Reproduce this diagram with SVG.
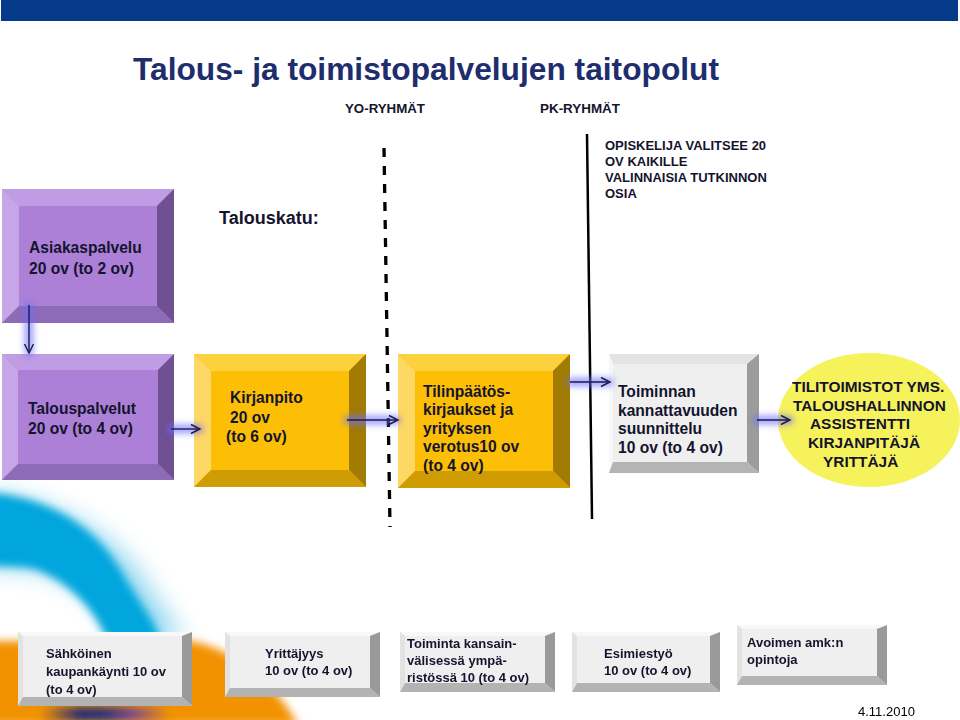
<svg xmlns="http://www.w3.org/2000/svg" width="960" height="720" viewBox="0 0 960 720">
<defs>
<style>
.tx{font-family:"Liberation Sans",Arial,sans-serif;font-weight:bold;fill:#14142e}
.s16{font-size:15.6px}
.s13{font-size:13px}
.s15{font-size:15.4px}
.purple .fc{fill:#ab80d6}.purple .bt{fill:#c09ce4}.purple .bl{fill:#c7a6e8}.purple .br{fill:#6e5093}.purple .bb{fill:#8e6bb6}
.yellow .fc{fill:#fcbf05}.yellow .bt{fill:#fdd03e}.yellow .bl{fill:#fed865}.yellow .br{fill:#a27b04}.yellow .bb{fill:#cf9c03}
.gray .fc{fill:#efefef}.gray .bt{fill:#e4e4e4}.gray .bl{fill:#f7f7f7}.gray .br{fill:#9c9c9c}.gray .bb{fill:#b4b4b4}
.sgray .fc{fill:#efefef}.sgray .bt{fill:#f8f8f8}.sgray .bl{fill:#e2e2e2}.sgray .br{fill:#9a9a9a}.sgray .bb{fill:#b3b3b3}
.glow{stroke:#6b6bff;stroke-width:9;stroke-linecap:round;opacity:0.65;fill:none}
.ln{stroke:#1a1a4d;stroke-width:1.4;fill:none}
</style>
<filter id="blur3" filterUnits="userSpaceOnUse" x="0" y="0" width="960" height="720"><feGaussianBlur stdDeviation="3"/></filter>
<filter id="soft" filterUnits="userSpaceOnUse" x="-50" y="400" width="450" height="340"><feGaussianBlur stdDeviation="4"/></filter>
<filter id="fade" filterUnits="userSpaceOnUse" x="-50" y="400" width="450" height="340"><feGaussianBlur stdDeviation="12"/></filter>
<linearGradient id="strip" x1="0" y1="0" x2="1" y2="0">
<stop offset="0" stop-color="#f39200"/>
<stop offset="0.3" stop-color="#1e2a7a"/>
<stop offset="0.5" stop-color="#24307e"/>
<stop offset="0.72" stop-color="#7a4a8e"/>
<stop offset="1" stop-color="#f39200"/>
</linearGradient>
<marker id="ah" markerUnits="userSpaceOnUse" markerWidth="12" markerHeight="12" refX="10" refY="6" orient="auto">
<path d="M1,1.5 L10,6 L1,10.5" fill="none" stroke="#1a1a4d" stroke-width="1.4"/>
</marker>
</defs>

<rect width="960" height="720" fill="#ffffff"/>

<!-- background decorations -->
<g id="decor">
<rect x="1" y="0" width="957" height="21" fill="#053a88"/>
<path d="M-30,495 L0,495 C60,505 120,535 150,590 C160,605 170,620 185,640 L120,640 C105,605 80,580 40,570 C20,567 0,567 -30,567 Z" fill="#00a6dd" opacity="0.45" filter="url(#fade)"/>
<path d="M-30,494 L0,494 C40,499 93,518 125,578 C138,600 150,615 162,640 L107,640 C96,612 72,583 35,569 C20,566 0,566 -30,566 Z" fill="#00a6dd" filter="url(#soft)"/>
<path d="M-30,641 L190,641 C240,650 278,688 298,725 L-30,725 Z" fill="#f39200" filter="url(#soft)"/>
<rect x="40" y="707" width="130" height="14" fill="url(#strip)" filter="url(#soft)"/>
</g>

<g id="title">
<text x="133" y="80" font-family="'Liberation Sans',Arial,sans-serif" font-weight="bold" font-size="32" fill="#1e2d6e" textLength="586" lengthAdjust="spacingAndGlyphs">Talous- ja toimistopalvelujen taitopolut</text>
</g>
<g id="headers">
<text class="tx s13" x="345" y="113" textLength="80" lengthAdjust="spacingAndGlyphs">YO-RYHMÄT</text>
<text class="tx s13" x="540" y="113" textLength="80" lengthAdjust="spacingAndGlyphs">PK-RYHMÄT</text>
<text class="tx" x="219" y="224" font-size="18">Talouskatu:</text>
<g class="tx s13">
<text x="605" y="150">OPISKELIJA VALITSEE 20</text>
<text x="605" y="166">OV KAIKILLE</text>
<text x="605" y="182">VALINNAISIA TUTKINNON</text>
<text x="605" y="198">OSIA</text>
</g>
</g>

<g id="dividers">
<line x1="384" y1="148" x2="390" y2="527" stroke="#000" stroke-width="3.3" stroke-dasharray="9 9"/>
<line x1="587" y1="134" x2="592" y2="519" stroke="#000" stroke-width="2.5"/>
</g>

<g id="asiakaspalvelu" class="purple">
<rect class="fc" x="2" y="189" width="172" height="134"/>
<polygon class="bt" points="2,189 174,189 157,206 19,206"/>
<polygon class="bl" points="2,189 19,206 19,306 2,323"/>
<polygon class="br" points="174,189 174,323 157,306 157,206"/>
<polygon class="bb" points="2,323 19,306 157,306 174,323"/>
<text class="tx s16" x="29" y="253">Asiakaspalvelu</text>
<text class="tx s16" x="29" y="274">20 ov (to 2 ov)</text>
</g>

<g id="talouspalvelut" class="purple">
<rect class="fc" x="2" y="354" width="172" height="126"/>
<polygon class="bt" points="2,354 174,354 158,370 18,370"/>
<polygon class="bl" points="2,354 18,370 18,464 2,480"/>
<polygon class="br" points="174,354 174,480 158,464 158,370"/>
<polygon class="bb" points="2,480 18,464 158,464 174,480"/>
<text class="tx s16" x="28" y="414">Talouspalvelut</text>
<text class="tx s16" x="28" y="434">20 ov (to 4 ov)</text>
</g>

<g id="kirjanpito" class="yellow">
<rect class="fc" x="194" y="354" width="172" height="133"/>
<polygon class="bt" points="194,354 366,354 349,371 211,371"/>
<polygon class="bl" points="194,354 211,371 211,470 194,487"/>
<polygon class="br" points="366,354 366,487 349,470 349,371"/>
<polygon class="bb" points="194,487 211,470 349,470 366,487"/>
<text class="tx s16" x="230" y="403">Kirjanpito</text>
<text class="tx s16" x="230" y="423">20 ov</text>
<text class="tx s16" x="226" y="442">(to 6 ov)</text>
</g>

<g id="tilinpaatos" class="yellow">
<rect class="fc" x="398" y="354" width="172" height="134"/>
<polygon class="bt" points="398,354 570,354 553,371 415,371"/>
<polygon class="bl" points="398,354 415,371 415,471 398,488"/>
<polygon class="br" points="570,354 570,488 553,471 553,371"/>
<polygon class="bb" points="398,488 415,471 553,471 570,488"/>
<text class="tx s16" x="423" y="397">Tilinpäätös-</text>
<text class="tx s16" x="423" y="415">kirjaukset ja</text>
<text class="tx s16" x="423" y="433.5">yrityksen</text>
<text class="tx s16" x="423" y="452">verotus10 ov</text>
<text class="tx s16" x="423" y="471">(to 4 ov)</text>
</g>

<g id="toiminnan" class="gray">
<rect class="fc" x="609" y="354" width="150" height="119"/>
<polygon class="bt" points="609,354 759,354 747,364 613,364"/>
<polygon class="bl" points="609,354 613,364 613,462 609,473"/>
<polygon class="br" points="759,354 759,473 747,462 747,364"/>
<polygon class="bb" points="609,473 613,462 747,462 759,473"/>
<text class="tx s16" x="618" y="397">Toiminnan</text>
<text class="tx s16" x="618" y="415.5">kannattavuuden</text>
<text class="tx s16" x="618" y="434">suunnittelu</text>
<text class="tx s16" x="618" y="453">10 ov (to 4 ov)</text>
</g>

<g id="tilitoimistot">
<ellipse cx="869" cy="420" rx="91" ry="67" fill="#f6f25c"/>
<g class="tx s15">
<text x="792" y="392">TILITOIMISTOT YMS.</text>
<text x="793" y="411">TALOUSHALLINNON</text>
<text x="810" y="429">ASSISTENTTI</text>
<text x="808" y="448">KIRJANPITÄJÄ</text>
<text x="823" y="467">YRITTÄJÄ</text>
</g>
</g>

<g id="connectors">
<g filter="url(#blur3)">
<line class="glow" x1="29" y1="307" x2="29" y2="352"/>
<line class="glow" x1="172" y1="429" x2="199" y2="429"/>
<line class="glow" x1="348" y1="420" x2="396" y2="420"/>
<line class="glow" x1="571" y1="382" x2="609" y2="382"/>
<line class="glow" x1="758" y1="420" x2="789" y2="420"/>
</g>
<line class="ln" x1="29" y1="305" x2="29" y2="353" marker-end="url(#ah)"/>
<line class="ln" x1="171" y1="429" x2="200" y2="429" marker-end="url(#ah)"/>
<line class="ln" x1="347" y1="420" x2="398" y2="420" marker-end="url(#ah)"/>
<line class="ln" x1="570" y1="382" x2="610" y2="382" marker-end="url(#ah)"/>
<line class="ln" x1="757" y1="420" x2="790" y2="420" marker-end="url(#ah)"/>
</g>

<g id="sahkoinen" class="sgray">
<rect class="fc" x="18" y="632" width="174" height="74"/>
<polygon class="bt" points="18,632 192,632 182,636 23,636"/>
<polygon class="bl" points="18,632 23,636 23,697 18,706"/>
<polygon class="br" points="192,632 192,706 182,697 182,636"/>
<polygon class="bb" points="18,706 23,697 182,697 192,706"/>
<text class="tx s13" x="46" y="658">Sähköinen</text>
<text class="tx s13" x="46" y="676">kaupankäynti 10 ov</text>
<text class="tx s13" x="46" y="694">(to 4 ov)</text>
</g>

<g id="yrittajyys" class="sgray">
<rect class="fc" x="225" y="632" width="155" height="65"/>
<polygon class="bt" points="225,632 380,632 370,636 230,636"/>
<polygon class="bl" points="225,632 230,636 230,688 225,697"/>
<polygon class="br" points="380,632 380,697 370,688 370,636"/>
<polygon class="bb" points="225,697 230,688 370,688 380,697"/>
<text class="tx s13" x="265" y="658">Yrittäjyys</text>
<text class="tx s13" x="265" y="675">10 ov (to 4 ov)</text>
</g>

<g id="kansainvalisyys" class="sgray">
<rect class="fc" x="400" y="632" width="155" height="60"/>
<polygon class="bt" points="400,632 555,632 545,636 405,636"/>
<polygon class="bl" points="400,632 405,636 405,683 400,692"/>
<polygon class="br" points="555,632 555,692 545,683 545,636"/>
<polygon class="bb" points="400,692 405,683 545,683 555,692"/>
<text class="tx s13" x="407" y="648">Toiminta kansain-</text>
<text class="tx s13" x="407" y="665">välisessä ympä-</text>
<text class="tx s13" x="407" y="682">ristössä 10 (to 4 ov)</text>
</g>

<g id="esimiestyo" class="sgray">
<rect class="fc" x="572" y="632" width="148" height="60"/>
<polygon class="bt" points="572,632 720,632 710,636 577,636"/>
<polygon class="bl" points="572,632 577,636 577,683 572,692"/>
<polygon class="br" points="720,632 720,692 710,683 710,636"/>
<polygon class="bb" points="572,692 577,683 710,683 720,692"/>
<text class="tx s13" x="604" y="658">Esimiestyö</text>
<text class="tx s13" x="604" y="675">10 ov (to 4 ov)</text>
</g>

<g id="avoimen" class="sgray">
<rect class="fc" x="737" y="625" width="150" height="60"/>
<polygon class="bt" points="737,625 887,625 877,629 742,629"/>
<polygon class="bl" points="737,625 742,629 742,676 737,685"/>
<polygon class="br" points="887,625 887,685 877,676 877,629"/>
<polygon class="bb" points="737,685 742,676 877,676 887,685"/>
<text class="tx s13" x="747" y="647">Avoimen amk:n</text>
<text class="tx s13" x="747" y="664">opintoja</text>
</g>

<g id="date">
<text x="858" y="716" font-family="'Liberation Sans',Arial,sans-serif" font-size="13" fill="#000">4.11.2010</text>
</g>
</svg>
